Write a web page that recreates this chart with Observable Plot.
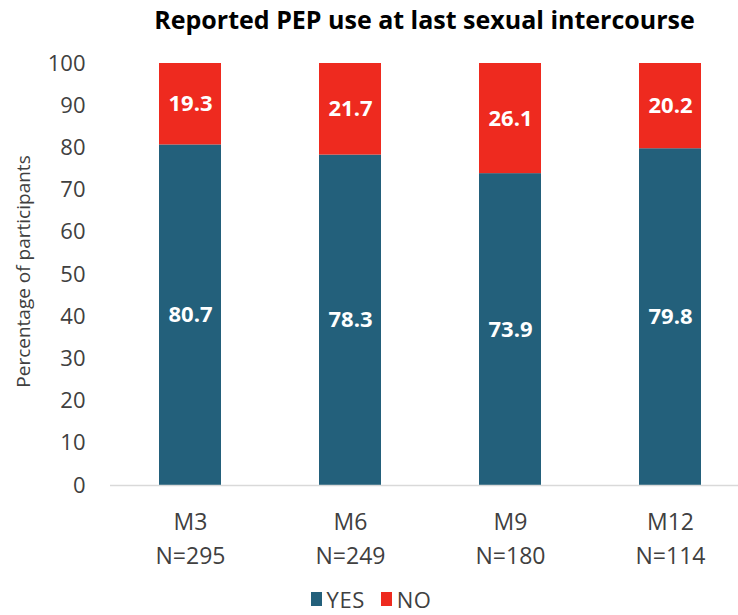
<!DOCTYPE html>
<html>
<head>
<meta charset="utf-8">
<script src="https://cdn.jsdelivr.net/npm/d3@7"></script>
<script src="https://cdn.jsdelivr.net/npm/@observablehq/plot@0.6"></script>
<style>
  body { margin: 0; background: #fff; font-family: "Open Sans", sans-serif; }
  #wrap { width: 738px; height: 615px; overflow: hidden; }
  #legend { display: flex; justify-content: center; height: 32px; align-items: center; margin-left: 20px; }
  #legend > div { margin: 0 !important; }
  #legend span { margin-right: 16px !important; letter-spacing: 0.5px; }
  #legend span svg { margin-right: 5px !important; }
</style>
</head>
<body>
<div id="wrap">
  <div id="chart"></div>
  <div id="legend"></div>
</div>
<script>
const title = "Reported PEP use at last sexual intercourse";
const yLabel = "Percentage of participants";
const categories = ["M3", "M6", "M9", "M12"];
const sampleSizes = [295, 249, 180, 114];
const yesValues = [80.7, 78.3, 73.9, 79.8];
const noValues = [19.3, 21.7, 26.1, 20.2];
const series = ["YES", "NO"];
const colors = ["#23607b", "#ee2a1f"];
const yTicks = [0, 10, 20, 30, 40, 50, 60, 70, 80, 90, 100];

const data = categories.flatMap((c, i) => [
  {cat: c, resp: "YES", value: yesValues[i]},
  {cat: c, resp: "NO", value: noValues[i]}
]);

const font = "'Open Sans', Lato, sans-serif";
const plot = Plot.plot({
  width: 738,
  height: 583,
  marginTop: 63,
  marginBottom: 98,
  marginLeft: 110,
  marginRight: 0,
  style: {fontFamily: font, fontSize: "22px", color: "#404040", background: "#fff", overflow: "visible"},
  x: {domain: categories, range: [110, 750], paddingInner: 0.6125, paddingOuter: 0.30625, axis: null},
  y: {domain: [0, 100], label: null},
  color: {domain: series, range: colors},
  marks: [
    Plot.axisY({ticks: yTicks, tickSize: 0, tickPadding: 25, fontSize: 22, label: null, fill: "#404040"}),
    Plot.text([yLabel], {frameAnchor: "left", textAnchor: "middle", dx: -87, dy: -3, rotate: -90, fontSize: 19, fill: "#404040", text: d => d}),
    Plot.barY(data, Plot.stackY({x: "cat", y: "value", fill: "resp"})),
    Plot.text(data, Plot.stackY({x: "cat", y: "value", z: "resp", text: d => d.value.toFixed(1), fill: "white", fontWeight: "bold", fontSize: 22})),
    Plot.ruleY([0], {stroke: "#d9d9d9", strokeWidth: 1.5}),
    Plot.text(categories, {x: d => d, frameAnchor: "bottom", lineAnchor: "middle", dy: 37, text: d => d, fontSize: 23, fill: "#404040"}),
    Plot.text(categories, {x: d => d, frameAnchor: "bottom", lineAnchor: "middle", dy: 71, text: (d, i) => "N=" + sampleSizes[i], fontSize: 23, fill: "#404040"}),
    Plot.text([title], {frameAnchor: "top", lineAnchor: "middle", dy: -43, text: d => d, fontSize: 25, fontWeight: "bold", fill: "#000"})
  ]
});
document.getElementById("chart").appendChild(plot);

const legend = Plot.legend({
  color: {domain: series, range: colors},
  legend: "swatches",
  swatchWidth: 11,
  swatchHeight: 14,
  style: {fontFamily: font, fontSize: "22px", color: "#404040"}
});
document.getElementById("legend").appendChild(legend);
</script>
</body>
</html>
